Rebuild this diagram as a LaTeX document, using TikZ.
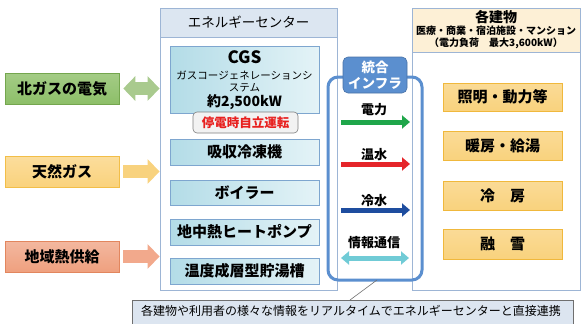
\documentclass[tikz,border=0pt]{standalone}
\usepackage{fontspec}
\setmainfont{Noto Sans CJK JP}
\usetikzlibrary{arrows.meta}
\definecolor{pbord}{HTML}{9DB5D5}
\definecolor{phead}{HTML}{DCE6F1}
\definecolor{eqA}{HTML}{B3DCE7}
\definecolor{eqB}{HTML}{E4F3F7}
\definecolor{eqbord}{HTML}{7EA6CF}
\definecolor{gfill}{HTML}{8DBF68}
\definecolor{gbord}{HTML}{74A64E}
\definecolor{garr}{HTML}{A9CA8E}
\definecolor{yfill}{HTML}{FAD27C}
\definecolor{ybord}{HTML}{F2BE48}
\definecolor{yarr}{HTML}{F8D27E}
\definecolor{sfill}{HTML}{EFA07F}
\definecolor{sbord}{HTML}{E2865E}
\definecolor{sarr}{HTML}{F2A98C}
\definecolor{infra}{HTML}{5B8FCF}
\definecolor{bhead}{HTML}{FDF0D6}
\definecolor{bbox}{HTML}{F9D27D}
\definecolor{bbord}{HTML}{F0B83C}
\definecolor{callfill}{HTML}{DCE5F0}
\definecolor{callbord}{HTML}{6F6F6F}
\definecolor{redtxt}{HTML}{E8201F}
\definecolor{pgreen}{HTML}{1FA64A}
\definecolor{pred}{HTML}{E5252A}
\definecolor{pblue}{HTML}{1E4D9F}
\definecolor{pcyan}{HTML}{70CBD6}
\newcommand{\fsz}[1]{\fontsize{#1}{#1}\selectfont}
\tikzset{
  panel/.style={draw=pbord, line width=0.8pt, fill=white, minimum width=#1, inner sep=0pt},
  eqbox/.style={draw=eqbord, line width=0.6pt, left color=eqA, right color=eqB, minimum width=149pt, minimum height=#1, inner sep=0pt, font=\fsz{15}\bfseries},
  srcbox/.style={line width=0.6pt, minimum width=114pt, minimum height=31pt, inner sep=0pt, font=\fsz{15}\bfseries},
  bldbox/.style={draw=bbord, line width=0.6pt, top color=bbox!80!white, bottom color=bbox, minimum width=119pt, minimum height=#1, inner sep=0pt, font=\fsz{15}\bfseries},
  bigarrow/.style={line width=13pt, draw=#1, -{Triangle[length=12pt,width=24pt]}},
  bigdarrow/.style={line width=13pt, draw=#1, {Triangle[length=12pt,width=24pt]}-{Triangle[length=12pt,width=24pt]}},
  flow/.style={line width=5pt, draw=#1, -{Triangle[length=8pt,width=13pt]}},
  dflow/.style={line width=5pt, draw=#1, {Triangle[length=8pt,width=13pt]}-{Triangle[length=8pt,width=13pt]}},
  flowlbl/.style={font=\fsz{13}\bfseries, inner sep=0pt},
}
\begin{document}
\begin{tikzpicture}[x=1pt,y=-1pt]
\useasboundingbox (0,0) rectangle (582,324);
% panels
\node[panel=177pt, minimum height=282pt] (ec) at (248.5,149) {};
\node[panel=177pt, minimum height=29pt, fill=phead, anchor=north] (echead) at (ec.north) {\fsz{13.5}エネルギーセンター};
\node[panel=168pt, minimum height=282pt] (bp) at (496,149) {};
\node[panel=168pt, minimum height=44pt, fill=bhead, anchor=north] (bphead) at (bp.north) {};
\node[font=\fsz{14}\bfseries, inner sep=0pt] (bt1) at (496,17) {各建物};
\node[font=\fsz{10}\bfseries, inner sep=0pt] (bt2) at (496,31) {医療・商業・宿泊施設・マンション};
\node[font=\fsz{10}\bfseries, inner sep=0pt] (bt3) at (496,43.5) {（電力負荷　最大3,600kW）};
% CGS
\node[eqbox=67pt] (cgs) at (244.5,79.5) {};
\node[font=\fsz{17}\bfseries, inner sep=0pt] (cgsT) at (244.5,57) {CGS};
\node[font=\fsz{10.5}, inner sep=0pt] (cgsA) at (244.5,75) {ガスコージェネレーションシ};
\node[font=\fsz{10.5}, inner sep=0pt] (cgsB) at (244.5,88) {ステム};
\node[font=\fsz{14}\bfseries, inner sep=0pt] (cgsC) at (244.5,102) {約2,500kW};
\node[draw=gray, line width=0.6pt, fill=gray!10, rounded corners=4pt, minimum width=105pt, minimum height=21pt, inner sep=0pt, text=redtxt, font=\fsz{12.5}\bfseries] (bo) at (245.5,122.5) {停電時自立運転};
\node[eqbox=26pt] (abs) at (244.5,152) {吸収冷凍機};
\node[eqbox=25pt] (boil) at (244.5,193) {ボイラー};
\node[eqbox=26pt] (geo) at (244.5,232) {地中熱ヒートポンプ};
\node[eqbox=26pt] (tank) at (244.5,271) {温度成層型貯湯槽};
% sources
\node[srcbox, draw=gbord, top color=gfill!80!white, bottom color=gfill] (elec) at (62,88.5) {北ガスの電気};
\node[srcbox, draw=ybord, top color=yfill!75!white, bottom color=yfill] (gas) at (62,171.5) {天然ガス};
\node[srcbox, draw=sbord, top color=sfill!75!white, bottom color=sfill] (dh) at (62,256.5) {地域熱供給};
\draw[bigdarrow=garr] ([xshift=4pt]elec.east) -- (elec -| ec.west);
\draw[bigarrow=yarr] ([xshift=4pt]gas.east) -- (gas -| ec.west);
\draw[bigarrow=sarr] ([xshift=4pt]dh.east) -- (dh -| ec.west);
% buildings
\node[bldbox=28pt] (light) at (502.5,97) {照明・動力等};
\node[bldbox=29pt] (heat) at (502.5,145.5) {暖房・給湯};
\node[bldbox=29pt] (cool) at (502.5,195.5) {冷　房};
\node[bldbox=30pt] (snow) at (502.5,244) {融　雪};
% infra
\draw[infra, line width=3pt, rounded corners=10pt] (328,77) rectangle (422,280);
\coordinate (infraB) at (377,280);
\node[draw=infra!80!black, line width=0.6pt, fill=infra, rounded corners=5pt, minimum width=64pt, minimum height=36pt, inner sep=0pt, text=white, font=\fsz{13.5}\bfseries, align=center] (infl) at (375,75) {統合\\[2pt]インフラ};
\node[flowlbl] (lp) at (374,110) {電力};
\coordinate (p1) at (341,122); \coordinate (p2) at (410,122);
\draw[flow=pgreen] (p1) -- (p2);
\node[flowlbl] (lh) at (374,155) {温水};
\coordinate (h1) at (341,164); \coordinate (h2) at (410,164);
\draw[flow=pred] (h1) -- (h2);
\node[flowlbl] (lc) at (374,201) {冷水};
\coordinate (c1) at (341,210); \coordinate (c2) at (410,210);
\draw[flow=pblue] (c1) -- (c2);
\node[flowlbl] (li) at (374,243) {情報通信};
\coordinate (i1) at (341,258); \coordinate (i2) at (409,258);
\draw[dflow=pcyan] (i1) -- (i2);
% callout
\node[draw=callbord, line width=0.8pt, fill=callfill, minimum width=441pt, minimum height=30pt, inner sep=0pt, anchor=north west] (call) at (132,300) {};
\node[font=\fsz{12}, inner sep=0pt] (callt) at (351,311) {各建物や利用者の様々な情報をリアルタイムでエネルギーセンターと直接連携};
\draw[callbord, line width=0.6pt] (call.north -| 350,0) -- (infraB);
\end{tikzpicture}
\end{document}
